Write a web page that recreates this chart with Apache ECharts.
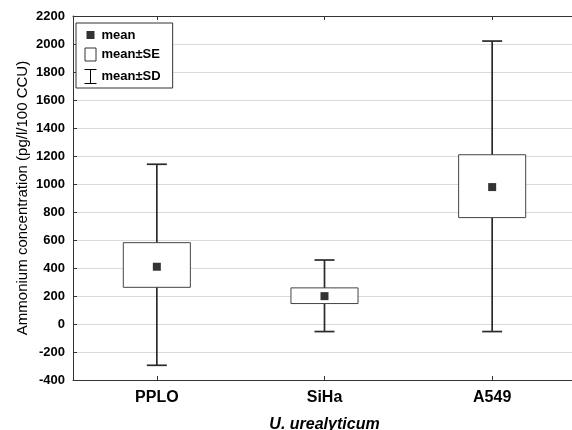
<!DOCTYPE html>
<html>
<head>
<meta charset="utf-8">
<script src="https://cdn.jsdelivr.net/npm/echarts@6/dist/echarts.min.js"></script>
<style>
html,body{margin:0;padding:0;background:#fff;}
#chart{width:572px;height:430px;}
</style>
</head>
<body>
<div id="chart"></div>
<script>
// ---- data ----
var categories = ['PPLO', 'SiHa', 'A549'];
var means  = [409, 199, 978];
var seLow  = [262, 146, 760];
var seHigh = [581, 258, 1209];
var sdLow  = [-295, -54, -54];
var sdHigh = [1141, 457, 2021];
var yMin = -400, yMax = 2200, yStep = 200;

var FONT = 'Liberation Sans, Arial, sans-serif';

var sdData = categories.map(function (c, i) { return [i, sdLow[i], sdHigh[i]]; });
var seData = categories.map(function (c, i) { return [i, seLow[i], seHigh[i]]; });
var meanData = categories.map(function (c, i) { return [i, means[i]]; });

var chart = echarts.init(document.getElementById('chart'), null, {renderer: 'canvas'});

var option = {
  animation: false,
  backgroundColor: '#fff',
  textStyle: {fontFamily: FONT},
  grid: {left: 73, top: 16, width: 503, height: 364, containLabel: false, outerBoundsMode: 'none'},
  legend: {
    orient: 'vertical',
    left: 76, top: 23,
    padding: [5, 12, 2, 6],
    borderColor: '#333', borderWidth: 1,
    backgroundColor: '#fff',
    itemWidth: 12, itemHeight: 14, itemGap: 5,
    textStyle: {fontFamily: FONT, fontWeight: 'bold', fontSize: 13, color: '#000'},
    selectedMode: false,
    data: [
      {name: 'mean', icon: 'path://M0,0M12,14M2,3h8v8h-8z',
        itemStyle: {color: '#000', borderWidth: 0}},
      {name: 'mean±SE', icon: 'path://M0,0M12,14M0.5,0.5h11v13h-11z',
        itemStyle: {color: '#fff', borderColor: '#333', borderWidth: 1}},
      {name: 'mean±SD', icon: 'path://M0,0L12,0M6,0L6,14M0,14L12,14',
        itemStyle: {color: 'none', borderColor: '#000', borderWidth: 1}}
    ]
  },
  xAxis: [{
    type: 'category', position: 'bottom', data: categories, boundaryGap: true,
    axisLine: {show: true, onZero: false, lineStyle: {color: '#333', width: 1}},
    axisTick: {show: true, inside: true, alignWithLabel: true, length: 4, lineStyle: {color: '#333'}},
    axisLabel: {fontFamily: FONT, fontWeight: 'bold', fontSize: 16, color: '#000', margin: 10},
    splitLine: {show: false},
    name: 'U. urealyticum', nameLocation: 'middle', nameGap: 37, nameMoveOverlap: false,
    nameTextStyle: {fontFamily: FONT, fontWeight: 'bold', fontStyle: 'italic', fontSize: 16, color: '#000'}
  }, {
    type: 'category', position: 'top', data: categories, boundaryGap: true,
    axisLine: {show: true, onZero: false, lineStyle: {color: '#333', width: 1}},
    axisTick: {show: true, inside: true, alignWithLabel: true, length: 4, lineStyle: {color: '#333'}},
    axisLabel: {show: false},
    splitLine: {show: false}
  }],
  yAxis: {
    type: 'value', min: yMin, max: yMax, interval: yStep,
    axisLine: {show: true, onZero: false, lineStyle: {color: '#333', width: 1}},
    axisTick: {show: true, inside: true, length: 4, lineStyle: {color: '#333'}},
    axisLabel: {fontFamily: FONT, fontWeight: 'bold', fontSize: 13, color: '#000', margin: 8,
      formatter: function (v) { return String(v); }},
    splitLine: {show: true, lineStyle: {color: '#dadada', width: 1}},
    name: 'Ammonium concentration (pg/l/100 CCU)', nameLocation: 'middle', nameGap: 43,
    nameMoveOverlap: false,
    nameTextStyle: {fontFamily: FONT, fontSize: 15, color: '#000'}
  },
  series: [{
    name: 'mean±SD', type: 'custom', xAxisIndex: 0,
    itemStyle: {color: '#333'},
    encode: {x: 0, y: [1, 2]},
    renderItem: function (params, api) {
      var x = api.value(0);
      var lo = api.coord([x, api.value(1)]);
      var hi = api.coord([x, api.value(2)]);
      var cap = 10;
      var st = {stroke: '#2a2a2a', lineWidth: 1.7, fill: 'none'};
      return {type: 'group', children: [
        {type: 'line', shape: {x1: lo[0], y1: lo[1], x2: hi[0], y2: hi[1]}, style: st},
        {type: 'line', shape: {x1: lo[0] - cap, y1: lo[1], x2: lo[0] + cap, y2: lo[1]}, style: st},
        {type: 'line', shape: {x1: hi[0] - cap, y1: hi[1], x2: hi[0] + cap, y2: hi[1]}, style: st}
      ]};
    },
    data: sdData, z: 2
  }, {
    name: 'mean±SE', type: 'custom', xAxisIndex: 0,
    itemStyle: {color: '#fff', borderColor: '#333'},
    encode: {x: 0, y: [1, 2]},
    renderItem: function (params, api) {
      var x = api.value(0);
      var lo = api.coord([x, api.value(1)]);
      var hi = api.coord([x, api.value(2)]);
      var w = api.size([1, 0])[0] * 0.4;
      return {type: 'rect',
        shape: {x: lo[0] - w / 2, y: hi[1], width: w, height: lo[1] - hi[1]},
        style: {fill: '#fff', stroke: '#444', lineWidth: 1}};
    },
    data: seData, z: 3
  }, {
    name: 'mean', type: 'scatter', xAxisIndex: 0,
    symbol: 'rect', symbolSize: 8,
    itemStyle: {color: '#000'},
    data: meanData, z: 4
  }]
};
chart.setOption(option);
</script>
</body>
</html>
